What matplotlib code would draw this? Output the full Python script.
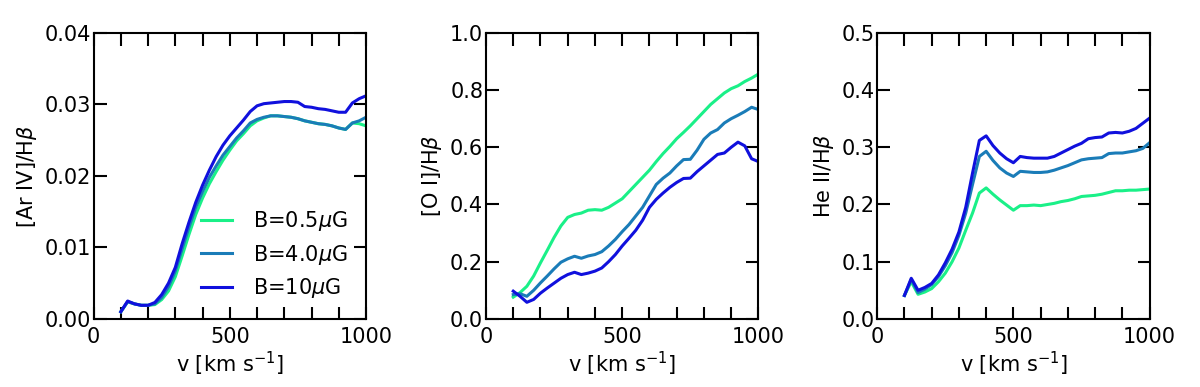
import matplotlib
matplotlib.use("Agg")
import matplotlib.pyplot as plt
from matplotlib.ticker import MultipleLocator, FuncFormatter

# velocity grid (km/s)
v = [100, 125, 150, 175, 200, 225, 250, 275, 300, 325, 350, 375, 400, 425, 450,
     475, 500, 525, 550, 575, 600, 625, 650, 675, 700, 725, 750, 775, 800, 825,
     850, 875, 900, 925, 950, 975, 1000]

labels = ["B=0.5$\\mu$G", "B=4.0$\\mu$G", "B=10$\\mu$G"]
colors = ["#1af088", "#1a7cb8", "#1010dd"]

# [Ar IV]/Hbeta
ar_b05 = [0.0010, 0.0024, 0.0021, 0.0019, 0.0019, 0.0020, 0.0027, 0.0039, 0.0059, 0.0088,
          0.0118, 0.0146, 0.0169, 0.0189, 0.0206, 0.0222, 0.0236, 0.0249, 0.0259, 0.0270,
          0.0277, 0.0281, 0.0284, 0.0284, 0.0283, 0.0282, 0.0280, 0.0277, 0.0275, 0.0273,
          0.0272, 0.0270, 0.0267, 0.0265, 0.0274, 0.0273, 0.0270]
ar_b4 = [0.0010, 0.0024, 0.0021, 0.0019, 0.0019, 0.0021, 0.0030, 0.0045, 0.0067, 0.0098,
         0.0128, 0.0156, 0.0178, 0.0198, 0.0214, 0.0229, 0.0241, 0.0253, 0.0263, 0.0274,
         0.0279, 0.0282, 0.0284, 0.0284, 0.0283, 0.0282, 0.0280, 0.0277, 0.0275, 0.0273,
         0.0272, 0.0270, 0.0267, 0.0265, 0.0274, 0.0277, 0.0282]
ar_b10 = [0.0010, 0.0025, 0.0021, 0.0019, 0.0019, 0.0023, 0.0034, 0.0050, 0.0072, 0.0105,
          0.0135, 0.0163, 0.0187, 0.0208, 0.0227, 0.0243, 0.0256, 0.0267, 0.0278, 0.0290,
          0.0298, 0.0301, 0.0302, 0.0303, 0.0304, 0.0304, 0.0303, 0.0297, 0.0296, 0.0294,
          0.0293, 0.0291, 0.0289, 0.0289, 0.0302, 0.0308, 0.0312]

# [O I]/Hbeta
o_b05 = [0.076, 0.092, 0.114, 0.150, 0.196, 0.240, 0.285, 0.325, 0.355, 0.365, 0.370, 0.380,
         0.382, 0.380, 0.390, 0.405, 0.420, 0.445, 0.470, 0.495, 0.520, 0.550, 0.578, 0.603,
         0.630, 0.652, 0.675, 0.700, 0.725, 0.750, 0.770, 0.790, 0.805, 0.815, 0.830, 0.842,
         0.856]
o_b4 = [0.085, 0.088, 0.079, 0.100, 0.126, 0.150, 0.175, 0.198, 0.210, 0.219, 0.212, 0.220,
        0.225, 0.235, 0.255, 0.278, 0.305, 0.330, 0.360, 0.390, 0.430, 0.470, 0.492, 0.510,
        0.535, 0.557, 0.558, 0.590, 0.628, 0.650, 0.662, 0.685, 0.700, 0.712, 0.725, 0.740,
        0.732]
o_b10 = [0.097, 0.079, 0.058, 0.068, 0.090, 0.108, 0.125, 0.142, 0.155, 0.163, 0.155, 0.160,
         0.167, 0.178, 0.200, 0.225, 0.255, 0.282, 0.310, 0.345, 0.390, 0.418, 0.440, 0.460,
         0.477, 0.491, 0.492, 0.515, 0.535, 0.555, 0.575, 0.580, 0.600, 0.618, 0.605, 0.560,
         0.550]

# He II/Hbeta
he_b05 = [0.041, 0.065, 0.043, 0.047, 0.053, 0.065, 0.080, 0.100, 0.124, 0.155, 0.185, 0.220,
          0.229, 0.218, 0.208, 0.199, 0.190, 0.198, 0.198, 0.199, 0.198, 0.200, 0.202, 0.205,
          0.207, 0.210, 0.214, 0.215, 0.216, 0.218, 0.221, 0.224, 0.224, 0.225, 0.225, 0.226,
          0.227]
he_b4 = [0.041, 0.069, 0.046, 0.052, 0.060, 0.074, 0.093, 0.116, 0.146, 0.185, 0.235, 0.284,
         0.293, 0.277, 0.264, 0.255, 0.249, 0.258, 0.257, 0.256, 0.256, 0.257, 0.260, 0.264,
         0.268, 0.273, 0.278, 0.280, 0.281, 0.282, 0.289, 0.290, 0.290, 0.292, 0.294, 0.298,
         0.308]
he_b10 = [0.041, 0.071, 0.050, 0.055, 0.062, 0.077, 0.098, 0.122, 0.152, 0.195, 0.255, 0.312,
          0.320, 0.303, 0.290, 0.280, 0.273, 0.284, 0.282, 0.281, 0.281, 0.281, 0.284, 0.290,
          0.296, 0.302, 0.307, 0.315, 0.317, 0.318, 0.325, 0.326, 0.325, 0.328, 0.333, 0.342,
          0.351]

panels = [
    ([ar_b05, ar_b4, ar_b10], "[Ar IV]/H$\\beta$", 0.04, 0.01, "%.2f"),
    ([o_b05, o_b4, o_b10], "[O I]/H$\\beta$", 1.0, 0.2, "%.1f"),
    ([he_b05, he_b4, he_b10], "He II/H$\\beta$", 0.5, 0.1, "%.1f"),
]
lefts = [0.078, 0.405, 0.731]

plt.rcParams['font.family'] = 'DejaVu Sans'
plt.rcParams['mathtext.fontset'] = 'dejavusans'
fs = 15

fig = plt.figure(figsize=(12, 3.87), dpi=100)

for i, (series, ylab, ymax, ystep, fmt) in enumerate(panels):
    ax = fig.add_axes([lefts[i], 0.176, 0.227, 0.739])
    for y, c, lab in zip(series, colors, labels):
        ax.plot(v, y, color=c, lw=2.2, label=lab)
    ax.set_xlim(0, 1000)
    ax.set_ylim(0, ymax)
    ax.xaxis.set_major_locator(MultipleLocator(100))
    ax.xaxis.set_major_formatter(FuncFormatter(
        lambda x, p: "%d" % x if round(x) % 500 == 0 else ""))
    ax.yaxis.set_major_locator(MultipleLocator(ystep))
    ax.yaxis.set_major_formatter(FuncFormatter(lambda y, p, f=fmt: f % y))
    ax.tick_params(direction='in', length=9, width=1.5, top=True, right=True,
                   labelsize=fs)
    ax.tick_params(axis='x', pad=6)
    ax.tick_params(axis='y', pad=2)
    for s in ax.spines.values():
        s.set_linewidth(1.5)
    ax.set_xlabel("v [km s$^{-1}$]", fontsize=fs, labelpad=2)
    ax.set_ylabel(ylab, fontsize=fs, labelpad=4)
    if i == 0:
        ax.legend(loc='lower right', frameon=False, fontsize=fs,
                  handlelength=1.5, handletextpad=1.0, labelspacing=0.45,
                  borderaxespad=0.5)

fig.savefig("out.png", dpi=100)
